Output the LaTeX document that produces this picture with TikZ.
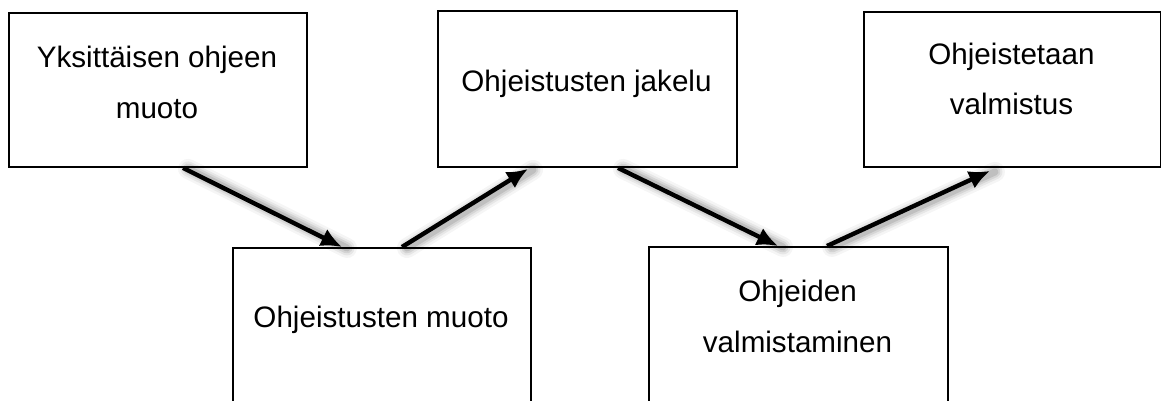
\documentclass[tikz,border=0pt]{standalone}
\usepackage{fontspec}
\setmainfont{Liberation Sans}
\usetikzlibrary{arrows.meta}

\tikzset{
  box/.style={draw=black, line width=1.9pt, fill=white, inner sep=0pt,
    anchor=north west, minimum width=#1},
  label/.style={anchor=base, align=center, inner sep=0pt,
    font=\fontsize{29.6}{51}\selectfont},
  flow/.style={draw=black, line width=4.4pt,
    -{Latex[length=21pt,width=19pt]}},
  glow/.style={draw=black, line cap=round, transform canvas={xshift=5pt,yshift=-1pt}}
}

% soft drop shadow under a connector, offset to the right
\newcommand{\flowshadow}[2]{%
  \foreach \w/\o in {20/0.04, 15/0.06, 11/0.08, 7/0.1}{%
    \draw[glow, line width=\w pt, opacity=\o] (#1) -- (#2);}%
}

\begin{document}
\begin{tikzpicture}[x=1pt, y=-1pt]
  \useasboundingbox (0,0) rectangle (1161,401);
  \clip (0,0) rectangle (1161,401);

  % boxes
  \node[box=298pt, minimum height=154pt] (b1) at (8,12) {};
  \node[box=298pt, minimum height=200pt] (b2) at (232,247) {};
  \node[box=299pt, minimum height=156pt] (b3) at (437,10) {};
  \node[box=299pt, minimum height=200pt] (b4) at (648,246) {};
  \node[box=297pt, minimum height=155pt] (b5) at (863,11) {};

  % labels (base anchor sits on the last line)
  \node[label] (t1) at (157,118) {Yksittäisen ohjeen\\muoto};
  \node[label] (t2) at (381,327) {Ohjeistusten muoto};
  \node[label] (t3) at (586.5,92) {Ohjeistusten jakelu};
  \node[label] (t4) at (797.5,352) {Ohjeiden\\valmistaminen};
  \node[label] (t5) at (1011.5,115) {Ohjeistetaan\\valmistus};

  % connector end points on the box edges
  \coordinate (a1s) at ([xshift=175pt]b1.south west);
  \coordinate (a1e) at ([xshift=110pt]b2.north west);
  \coordinate (a2s) at ([xshift=170pt]b2.north west);
  \coordinate (a2e) at ([xshift=91pt,yshift=-1pt]b3.south west);
  \coordinate (a3s) at ([xshift=181pt]b3.south west);
  \coordinate (a3e) at ([xshift=130pt]b4.north west);
  \coordinate (a4s) at ([xshift=179pt]b4.north west);
  \coordinate (a4e) at ([xshift=127pt,yshift=-3pt]b5.south west);

  % shadows
  \flowshadow{a1s}{a1e}
  \flowshadow{a2s}{a2e}
  \flowshadow{a3s}{a3e}
  \flowshadow{a4s}{a4e}

  % connectors
  \draw[flow] (a1s) -- (a1e);
  \draw[flow] (a2s) -- (a2e);
  \draw[flow] (a3s) -- (a3e);
  \draw[flow] (a4s) -- (a4e);
\end{tikzpicture}
\end{document}
